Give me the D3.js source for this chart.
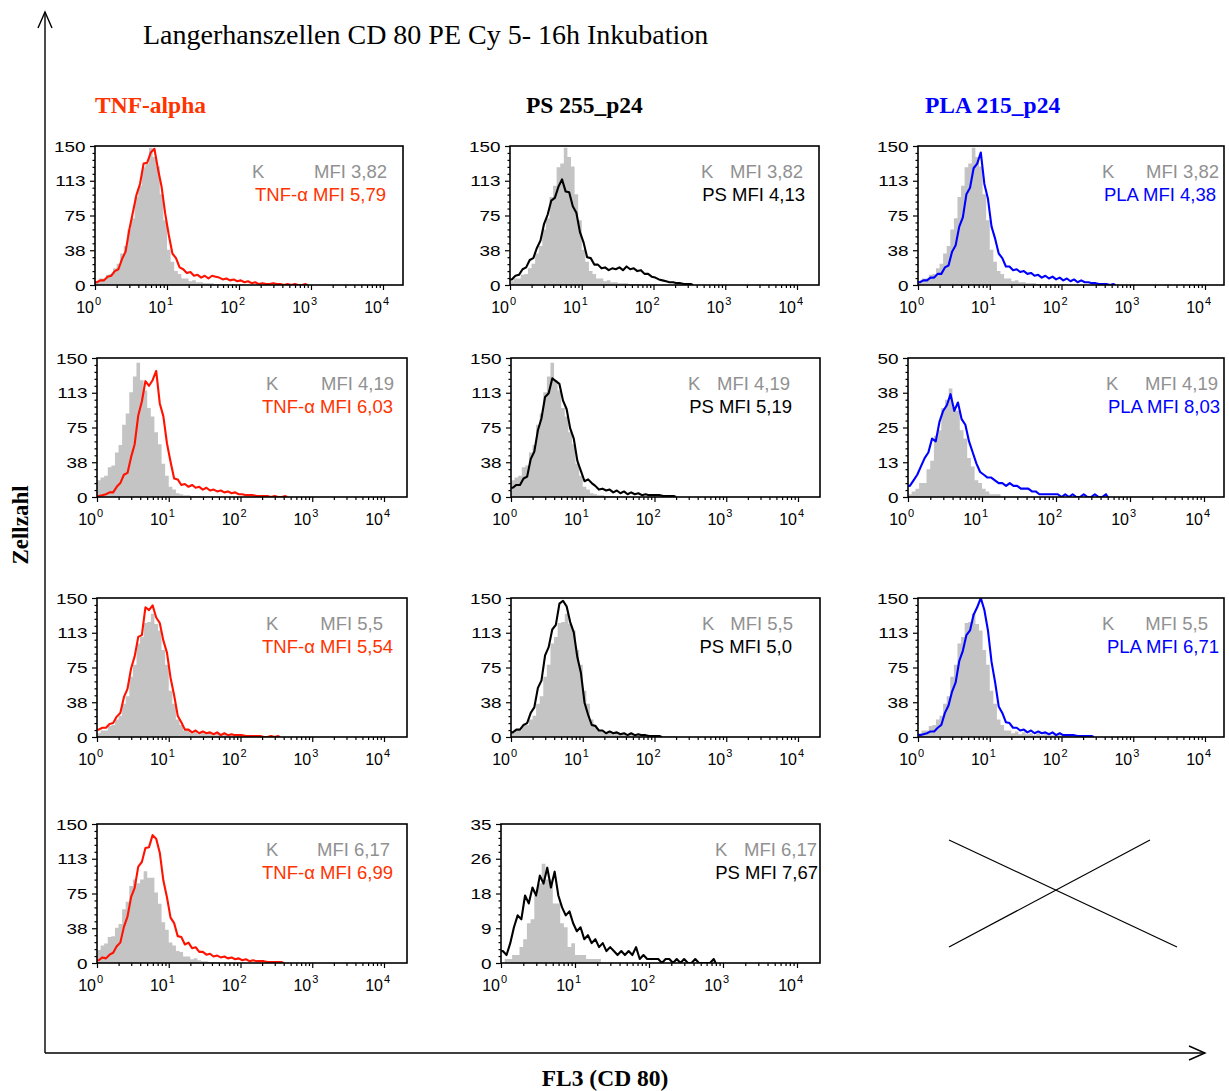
<!DOCTYPE html>
<html>
<head>
<meta charset="utf-8">
<script src="https://cdn.jsdelivr.net/npm/d3@7"></script>
<style>
  body { margin: 0; background: #fff; }
  svg { display: block; }
</style>
</head>
<body>
<svg id="chart" width="1229" height="1091"></svg>
<script>
// ---- data -------------------------------------------------------------
// Each histogram is a list of cell counts in channel groups that are
// BIN decades wide, starting at 10^0.
const BIN = 0.05;

const title = "Langerhanszellen CD 80 PE Cy 5- 16h Inkubation";
const columnHeads = ["TNF-alpha", "PS 255_p24", "PLA 215_p24"];
const yAxisTitle = "Zellzahl";
const xAxisTitle = "FL3 (CD 80)";
const decadeExponents = [0, 1, 2, 3, 4];

// control (K) MFI per incubation row
const controlMFI = ["3,82", "4,19", "5,5", "6,17"];

// sample legend lines, panel order row by row
const sampleLabels = [
  "TNF-\u03b1  MFI 5,79", "PS MFI 4,13", "PLA MFI 4,38",
  "TNF-\u03b1 MFI 6,03", "PS MFI 5,19", "PLA MFI 8,03",
  "TNF-\u03b1 MFI 5,54", "PS MFI 5,0", "PLA  MFI 6,71",
  "TNF-\u03b1 MFI 6,99", "PS MFI 7,67"
];

// y-axis maxima and tick labels per panel
const yMax = [150, 150, 150, 150, 150, 50, 150, 150, 150, 150, 35];
const yTickLabels = [
  ["0", "38", "75", "113", "150"], ["0", "38", "75", "113", "150"], ["0", "38", "75", "113", "150"],
  ["0", "38", "75", "113", "150"], ["0", "38", "75", "113", "150"], ["0", "13", "25", "38", "50"],
  ["0", "38", "75", "113", "150"], ["0", "38", "75", "113", "150"], ["0", "38", "75", "113", "150"],
  ["0", "38", "75", "113", "150"], ["0", "9", "18", "26", "35"]
];

// control histograms (grey)
const control1 = [4,7,7,11,12,18,23,34,42,60,72,95,107,127,131,148,138,128,98,70,38,25,15,12,7,7,4,5,3,3,2,2,2,1,1,1,1,0,1,0,1];
const control2 = [18,21,23,32,34,48,56,78,90,113,130,145,126,115,96,87,70,57,36,23,11,8,4,3,2,2,1,1,1];
const control2b = [1,2,3,5,5,10,13,22,24,32,35,39,32,31,24,21,14,11,6,5,3,2,1,1,1];
const control3 = [4,7,7,12,13,19,23,36,44,65,78,101,108,123,124,133,122,115,94,78,50,36,19,13,7,7,4,6,3,5,3,4,2,4,2,3,2,2,2,2,2,1,1,1,1,1];
const control4 = [14,19,21,28,29,38,42,58,66,83,90,86,90,99,92,92,76,64,44,36,22,19,13,12,7,7,4,5,3,2,2,1,1,1];
const control4b = [0,1,1,2,2,4,6,10,11,17,20,25,21,21,15,15,10,9,4,5,2,2,2,1,1,1,1];

// sample histograms
const tnf1 = [3,5,5,9,10,15,17,28,36,59,78,97,109,131,132,143,147,125,106,77,54,34,29,19,17,13,14,10,11,8,10,7,10,9,8,6,7,5,6,4,5,3,4,2,3,1,2,1,1,2,1,1,0,1,0,1,0,0,1];
const ps1 = [6,10,11,17,19,27,29,40,48,66,76,91,94,106,114,101,100,85,78,57,46,30,29,22,22,18,19,16,18,17,19,16,20,17,18,15,16,12,12,9,8,6,5,4,3,3,2,2,1,1,1];
const pla1 = [3,5,5,8,8,12,12,19,21,36,43,63,73,98,105,126,131,143,109,93,63,50,34,29,20,20,16,17,14,15,12,13,10,11,8,10,7,9,6,8,5,7,4,6,3,5,3,3,2,2,1,1,1,0,1];
const tnf2 = [1,2,3,5,5,11,15,24,26,43,57,88,103,125,120,126,136,101,87,58,38,20,19,13,14,11,13,10,11,8,10,7,8,6,7,5,6,4,5,3,3,2,2,2,1,1,1,1,0,1,0,0,1];
const ps2 = [10,13,13,20,22,41,49,72,85,108,112,128,125,122,104,95,74,63,39,28,17,19,15,12,8,9,7,8,5,7,4,6,3,5,3,4,2,3,2,2,2,2,1,1,1,1];
const pla2 = [4,6,8,11,14,16,21,20,27,31,33,37,31,34,28,26,20,16,12,9,8,7,7,6,5,5,4,5,4,4,3,3,3,2,2,1,1,1,1,1,1,0,1,0,1,0,0,1,0,0,1,0,0,1];
const tnf3 = [8,10,10,14,15,22,26,43,52,74,87,108,110,140,137,142,129,123,104,91,64,45,23,16,8,8,5,7,4,6,4,5,3,5,2,4,2,3,2,2,2,1,1,1,1,1,0,0,1,0,1];
const ps3 = [5,8,8,13,15,26,32,53,61,88,97,116,121,144,147,141,124,113,86,69,37,24,13,12,7,7,4,6,4,5,3,4,2,4,2,3,2,2,1,1,1,1];
const pla3 = [2,3,4,6,6,10,13,26,34,49,59,82,93,110,115,132,140,150,137,115,81,59,33,26,16,15,10,10,7,8,5,7,4,6,4,5,3,5,2,4,2,2,2,2,1,1,1,1,1];
const tnf4 = [3,6,5,9,11,18,22,39,50,71,81,104,109,124,125,138,134,119,89,71,49,43,29,28,20,22,16,17,12,12,9,10,7,8,6,7,5,6,4,5,3,4,2,3,2,2,2,1,1,1,1,1];
const ps4 = [3,2,5,9,12,11,17,15,19,17,22,20,24,19,23,17,14,12,13,10,8,9,6,7,5,6,4,5,3,4,3,2,3,2,3,2,4,1,2,1,1,1,1,0,1,1,0,1,0,1,0,0,1,0,0,0,0,1];

const controls = [control1, control1, control1, control2, control2, control2b,
                  control3, control3, control3, control4, control4b];
const samples = [tnf1, ps1, pla1, tnf2, ps2, pla2, tnf3, ps3, pla3, tnf4, ps4];

// ---- layout & styles --------------------------------------------------
const RED_TEXT = "#ff3300", RED_LINE = "#ff1200", BLUE = "#0000ff";
const GREY_FILL = "#c4c4c4", GREY_TEXT = "#919191";
const colColor = [RED_TEXT, "#000", BLUE];
const lineColor = [RED_LINE, "#000", BLUE];
const textColor = [RED_TEXT, "#000", BLUE];

// frame geometry of every panel (left = 10^0, dec4 = 10^4)
const frames = [
  {left: 95,  dec4: 383,  right: 403,  top: 146, bottom: 285},
  {left: 510, dec4: 797,  right: 819,  top: 146, bottom: 285},
  {left: 918, dec4: 1205, right: 1224, top: 146, bottom: 285},
  {left: 97,  dec4: 384,  right: 407,  top: 358, bottom: 497},
  {left: 511, dec4: 798,  right: 820,  top: 358, bottom: 497},
  {left: 908, dec4: 1204, right: 1224, top: 358, bottom: 497},
  {left: 97,  dec4: 384,  right: 407,  top: 598, bottom: 737},
  {left: 511, dec4: 798,  right: 820,  top: 598, bottom: 737},
  {left: 918, dec4: 1205, right: 1224, top: 598, bottom: 737},
  {left: 97,  dec4: 384,  right: 407,  top: 824, bottom: 963},
  {left: 501, dec4: 797,  right: 820,  top: 824, bottom: 963}
];
// legend anchors: K start, control MFI end, sample line end
const legendPos = [
  [252, 387, 386], [701, 803, 805], [1102, 1219, 1216],
  [266, 394, 393], [688, 790, 792], [1106, 1218, 1220],
  [266, 383, 393], [702, 793, 792], [1102, 1208, 1219],
  [266, 390, 393], [715, 817, 818]
];

const SANS = "'Liberation Sans', Arial, sans-serif";
const SERIF = "'Liberation Serif', 'Times New Roman', serif";

const svg = d3.select("#chart");

// ---- page titles and outer axes --------------------------------------
svg.append("text").attr("x", 143).attr("y", 44)
  .attr("font-family", SERIF).attr("font-size", 28).text(title);

const headX = [95, 526, 925];
columnHeads.forEach((h, i) => {
  svg.append("text").attr("x", headX[i]).attr("y", 113)
    .attr("font-family", SERIF).attr("font-size", 23.5).attr("font-weight", "bold")
    .attr("fill", colColor[i]).text(h);
});

svg.append("text")
  .attr("transform", "translate(28,525) rotate(-90)")
  .attr("text-anchor", "middle")
  .attr("font-family", SERIF).attr("font-size", 23).attr("font-weight", "bold")
  .text(yAxisTitle);

svg.append("text").attr("x", 605).attr("y", 1086).attr("text-anchor", "middle")
  .attr("font-family", SERIF).attr("font-size", 23.5).attr("font-weight", "bold")
  .text(xAxisTitle);

const outer = svg.append("g").attr("stroke", "#000").attr("fill", "none").attr("stroke-width", 1.4);
outer.append("path").attr("d", "M45,1053V12");
outer.append("path").attr("d", "M38,28L45,12L52,28");
outer.append("path").attr("d", "M45,1053H1205");
outer.append("path").attr("d", "M1189,1046L1205,1053L1189,1060");

// empty slot marked with a cross
const cross = svg.append("g").attr("stroke", "#000").attr("stroke-width", 1.2);
cross.append("line").attr("x1", 949).attr("y1", 840).attr("x2", 1177).attr("y2", 947);
cross.append("line").attr("x1", 1150).attr("y1", 840).attr("x2", 949).attr("y2", 947);

// ---- histogram panels -------------------------------------------------
frames.forEach((f, p) => {
  const col = p % 3, row = Math.floor(p / 3);
  const g = svg.append("g");

  const x = d3.scaleLog().domain([1, 1e4]).range([f.left, f.dec4]);
  const y = d3.scaleLinear().domain([0, yMax[p]]).range([f.bottom, f.top]);

  const clipId = "clip" + p;
  svg.append("clipPath").attr("id", clipId).append("rect")
    .attr("x", f.left).attr("y", f.top)
    .attr("width", f.right - f.left).attr("height", f.bottom - f.top);

  // grey control: channel groups as steps from their lower edge
  const edges = arr => arr.map((v, i) => [i * BIN, v]).concat([[arr.length * BIN, 0]]);
  // sample overlay: polyline through the channel-group centres
  const centres = arr => [[0, arr[0]]].concat(arr.map((v, i) => [(i + 0.5) * BIN, v]))
    .concat([[arr.length * BIN, 0]]);
  const px = d => x(Math.pow(10, d[0]));

  const area = d3.area().x(px).y0(y(0)).y1(d => y(d[1])).curve(d3.curveStepAfter);
  const line = d3.line().x(px).y(d => y(d[1]));

  const plot = g.append("g").attr("clip-path", `url(#${clipId})`);
  plot.append("path").datum(edges(controls[p]))
    .attr("d", area).attr("fill", GREY_FILL);
  plot.append("path").datum(centres(samples[p]))
    .attr("d", line).attr("fill", "none")
    .attr("stroke", lineColor[col]).attr("stroke-width", 2.1)
    .attr("stroke-linejoin", "round");

  // y axis: major ticks with labels, minor ticks between
  const yMajor = d3.range(5).map(k => yMax[p] * k / 4);
  const yMinor = d3.range(21).map(k => yMax[p] * k / 20).filter((v, k) => k % 5 !== 0);
  const yAx = g.append("g").attr("transform", `translate(${f.left},0)`)
    .call(d3.axisLeft(y).tickValues(yMajor).tickSize(5).tickSizeOuter(0)
      .tickFormat((d, i) => yTickLabels[p][i]));
  yAx.select(".domain").remove();
  yAx.selectAll("text")
    .attr("font-family", SANS).attr("font-size", 14).attr("fill", "#000")
    .attr("x", -9.5 / 1.35).attr("dy", "0.36em")
    .attr("transform", "scale(1.35,1)");
  const yMin = g.append("g").attr("transform", `translate(${f.left},0)`)
    .call(d3.axisLeft(y).tickValues(yMinor).tickSize(2.5).tickFormat(""));
  yMin.select(".domain").remove();

  // x axis: decades plus 2..9 minor ticks
  const xMinor = [];
  [1, 10, 100, 1000].forEach(dec => d3.range(2, 10).forEach(m => xMinor.push(dec * m)));
  const xAx = g.append("g").attr("transform", `translate(0,${f.bottom})`)
    .call(d3.axisBottom(x).tickValues(decadeExponents.map(e => Math.pow(10, e)))
      .tickSize(5).tickFormat(""));
  xAx.select(".domain").remove();
  const xMin = g.append("g").attr("transform", `translate(0,${f.bottom})`)
    .call(d3.axisBottom(x).tickValues(xMinor).tickSize(3).tickFormat(""));
  xMin.select(".domain").remove();
  g.selectAll(".tick line").attr("stroke", "#000").attr("stroke-width", 1.2);

  decadeExponents.forEach(e => {
    const tx = x(Math.pow(10, e));
    g.append("text").attr("x", tx - 1).attr("y", f.bottom + 28)
      .attr("text-anchor", "end").attr("font-family", SANS).attr("font-size", 16)
      .text("10");
    g.append("text").attr("x", tx).attr("y", f.bottom + 20)
      .attr("font-family", SANS).attr("font-size", 11).text(e);
  });

  // frame
  g.append("rect").attr("x", f.left).attr("y", f.top)
    .attr("width", f.right - f.left).attr("height", f.bottom - f.top)
    .attr("fill", "none").attr("stroke", "#000").attr("stroke-width", 1.6);

  // legend
  const [kx, mfiEnd, sEnd] = legendPos[p];
  const lg = g.append("g").attr("font-family", SANS).attr("font-size", 18.5)
    .style("white-space", "pre");
  lg.append("text").attr("x", kx).attr("y", f.top + 32).attr("fill", GREY_TEXT).text("K");
  lg.append("text").attr("x", mfiEnd).attr("y", f.top + 32).attr("text-anchor", "end")
    .attr("fill", GREY_TEXT).text("MFI " + controlMFI[row]);
  lg.append("text").attr("x", sEnd).attr("y", f.top + 55).attr("text-anchor", "end")
    .attr("fill", textColor[col]).text(sampleLabels[p]);
});
</script>
</body>
</html>
